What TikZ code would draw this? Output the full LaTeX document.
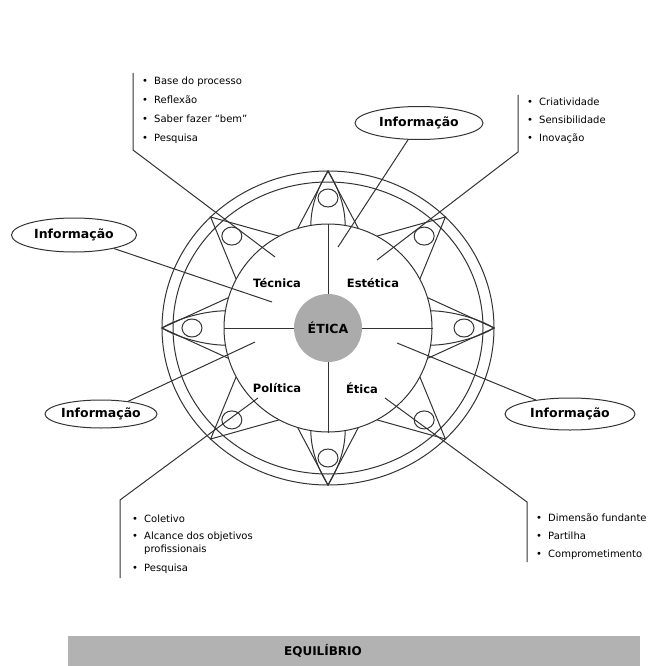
\documentclass[tikz,border=0pt]{standalone}
\usepackage{fontspec}
\setmainfont{DejaVu Sans}
\usetikzlibrary{calc,shapes.geometric}
\tikzset{
  ln/.style={line width=1pt, draw=black!80},
  info/.style={ellipse, draw=black!80, line width=1pt, inner sep=0pt,
    font=\bfseries\fontsize{12.5}{14}\selectfont},
  quad/.style={font=\bfseries\fontsize{11.5}{13}\selectfont, inner sep=0pt},
  bul/.style={anchor=base west, inner sep=0pt, font=\fontsize{10}{12}\selectfont},
}
\newcommand{\bl}[1]{\makebox[12pt][l]{•}#1}
\begin{document}
\begin{tikzpicture}[x=1pt,y=-1pt]
\useasboundingbox (0,0) rectangle (658,666);
\coordinate (C) at (328,328);
% rings
\draw[ln] (C) ellipse [x radius=166, y radius=157];
\draw[ln] (C) ellipse [x radius=155, y radius=146];
% star points and small circles
\foreach \a in {0,45,...,315} {
  \coordinate (T\a) at ($(C)+({166*cos(\a)},{157*sin(\a)})$);
  \coordinate (P\a) at ($(C)+({104*cos(\a+17)},{104*sin(\a+17)})$);
  \coordinate (M\a) at ($(C)+({104*cos(\a-17)},{104*sin(\a-17)})$);
  \coordinate (S\a) at ($(C)+({136*cos(\a)},{130*sin(\a)})$);
  \draw[ln] (P\a) -- (T\a) -- (M\a);
  \draw[ln] (S\a) ellipse [x radius=10, y radius=9];
}
% ogive arches on cardinal points
\foreach \a in {0,90,180,270} {
  \coordinate (OP\a) at ($(C)+({104*cos(\a+9.5)},{104*sin(\a+9.5)})$);
  \coordinate (OM\a) at ($(C)+({104*cos(\a-9.5)},{104*sin(\a-9.5)})$);
  \draw[ln] (OP\a) .. controls +({20*cos(\a)},{20*sin(\a)}) and +({18*cos(\a+148)},{18*sin(\a+148)}) .. (T\a)
     .. controls +({18*cos(\a+212)},{18*sin(\a+212)}) and +({20*cos(\a)},{20*sin(\a)}) .. (OM\a);
}
% inner circle
\node[circle, ln, draw, minimum size=208pt, inner sep=0pt] (inner) at (C) {};
% centre
\node[circle, fill=black!33, minimum size=68pt, inner sep=0pt,
      font=\bfseries\fontsize{12.5}{14}\selectfont] (eth) at (C) {ÉTICA};
\draw[ln] (eth.north) -- (inner.north);
\draw[ln] (eth.south) -- (inner.south);
\draw[ln] (eth.west) -- (inner.west);
\draw[ln] (eth.east) -- (inner.east);
% quadrant labels
\node[quad] (tec) at (277,283) {Técnica};
\node[quad] (est) at (373,283) {Estética};
\node[quad] (pol) at (277,388) {Política};
\node[quad] (eti) at (362,388) {Ética};
% Informacao ellipses
\node[info, minimum width=128pt, minimum height=33pt] (i1) at (419,123) {\makebox[0pt]{Informação}};
\node[info, minimum width=125pt, minimum height=34pt] (i2) at (74,235) {\makebox[0pt]{Informação}};
\node[info, minimum width=112pt, minimum height=28pt] (i3) at (101,414) {\makebox[0pt]{Informação}};
\node[info, minimum width=130pt, minimum height=32pt] (i4) at (570,414) {\makebox[0pt]{Informação}};
\coordinate (p1) at (338,247);
\coordinate (p2) at (272,302);
\coordinate (p3) at (255,342);
\coordinate (p4) at (397,343);
\draw[ln] (i1) -- (p1);
\draw[ln] (i2) -- (p2);
\draw[ln] (i3) -- (p3);
\draw[ln] (i4) -- (p4);
% bullet lists
\node[bul] (a1) at (142,85) {\bl{Base do processo}};
\node[bul] (a2) at (142,104) {\bl{Reflexão}};
\node[bul] (a3) at (142,123) {\bl{Saber fazer “bem”}};
\node[bul] (a4) at (142,142) {\bl{Pesquisa}};
\coordinate (at) at (133,73);
\coordinate (ak) at (133,150);
\coordinate (ae) at (275,257);
\draw[ln] (at) -- (ak) -- (ae);

\node[bul] (b1) at (527,106) {\bl{Criatividade}};
\node[bul] (b2) at (527,124) {\bl{Sensibilidade}};
\node[bul] (b3) at (527,142) {\bl{Inovação}};
\coordinate (bt) at (518,95);
\coordinate (bk) at (518,152);
\coordinate (be) at (377,260);
\draw[ln] (bt) -- (bk) -- (be);

\node[bul] (c1) at (132,522) {\bl{Coletivo}};
\node[bul] (c2) at (132,539) {\bl{Alcance dos objetivos}};
\node[bul] (c3) at (144,552) {profissionais};
\node[bul] (c4) at (132,571) {\bl{Pesquisa}};
\coordinate (ct) at (120,578);
\coordinate (ck) at (120,500);
\coordinate (ce) at (258,398);
\draw[ln] (ct) -- (ck) -- (ce);

\node[bul] (d1) at (536,521) {\bl{Dimensão fundante}};
\node[bul] (d2) at (536,539) {\bl{Partilha}};
\node[bul] (d3) at (536,557) {\bl{Comprometimento}};
\coordinate (dt) at (527,562);
\coordinate (dk) at (527,502);
\coordinate (de) at (385,398);
\draw[ln] (dt) -- (dk) -- (de);
% bottom bar
\fill[black!30] (68,636) rectangle (640,666);
\node[font=\bfseries\fontsize{12}{14}\selectfont, inner sep=0pt] (eq) at (323,651) {EQUILÍBRIO};
\end{tikzpicture}
\end{document}
